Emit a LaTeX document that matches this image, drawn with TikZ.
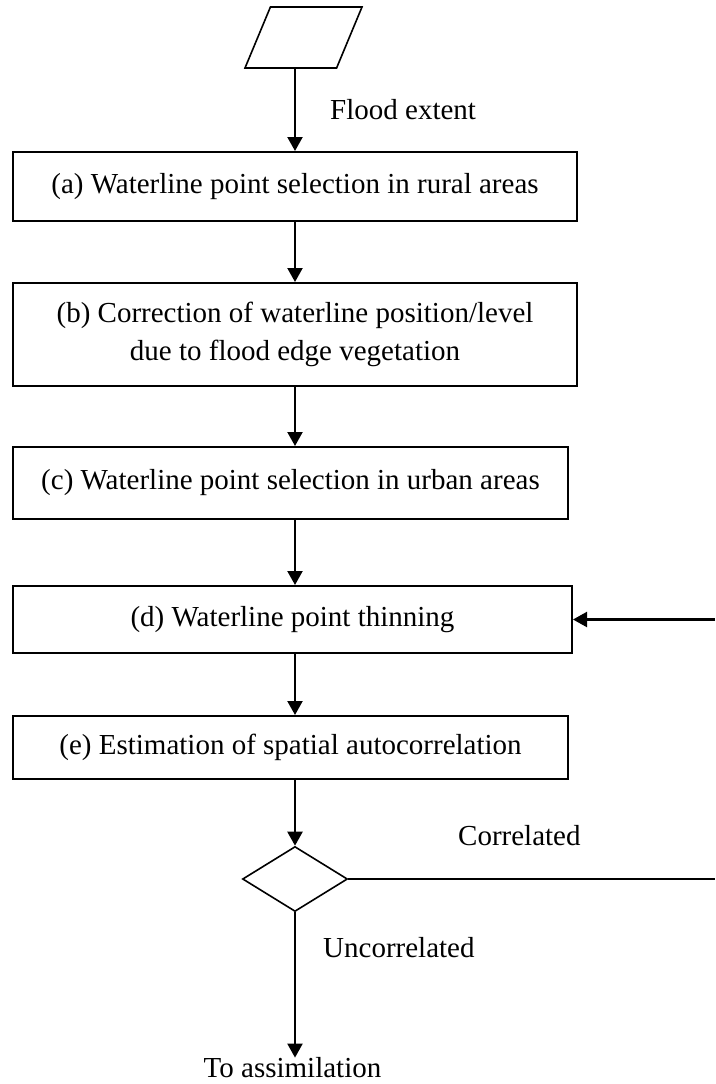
\documentclass[tikz,border=0pt]{standalone}
\usepackage{fontspec}
\setmainfont{Liberation Serif}
\usetikzlibrary{shapes.geometric, arrows.meta, positioning}

\begin{document}
\begin{tikzpicture}[
    x=1pt, y=-1pt,
    stage/.style={rectangle, draw, line width=2pt, inner sep=0pt, align=center,
                  font=\fontsize{29}{38}\selectfont},
    datain/.style={trapezium, trapezium left angle=69, trapezium right angle=111,
                   trapezium stretches=true, draw, line width=1.6pt, inner sep=2pt,
                   minimum width=117pt, minimum height=61pt},
    decide/.style={diamond, draw, line width=1.6pt, inner sep=2pt,
                   minimum width=105pt, minimum height=65pt},
    tag/.style={font=\fontsize{29}{34}\selectfont, inner sep=0pt},
    arrow/.style={-{Triangle[length=14pt, width=15pt]}, line width=2.2pt},
    line/.style={line width=2pt}
]
\useasboundingbox (0,0) rectangle (715,1084);

% Input
\node[datain] (input) at (303.5,37.5) {};

% Stages
\node[stage, minimum width=564pt, minimum height=69pt] (rural) at (295,186.5)
    {(a) Waterline point selection in rural areas};
\node[stage, minimum width=564pt, minimum height=103pt] (vegetation) at (295,334.5)
    {(b) Correction of waterline position/level\\due to flood edge vegetation};
\node[stage, minimum width=555pt, minimum height=72pt] (urban) at (290.5,483)
    {(c) Waterline point selection in urban areas};
\node[stage, minimum width=559pt, minimum height=67pt] (thinning) at (292.5,619.5)
    {(d) Waterline point thinning};
\node[stage, minimum width=555pt, minimum height=63pt] (autocorr) at (290.5,747.5)
    {(e) Estimation of spatial autocorrelation};

% Decision
\node[decide] (check) at (295,879) {};

% Edge points
\coordinate (loopin) at (715,619.5);
\coordinate (loopout) at (715,879);

% Labels
\node[tag, anchor=west] (floodlbl) at (330,110) {Flood extent};
\node[tag, anchor=west] (corrlbl) at (458,836) {Correlated};
\node[tag, anchor=west] (uncorrlbl) at (323,948) {Uncorrelated};
\node[tag] (assim) at (292.5,1068) {To assimilation};

% Flow
\draw[arrow] (input.south -| rural.north) -- (rural.north);
\draw[arrow] (rural.south) -- (rural.south |- vegetation.north);
\draw[arrow] (vegetation.south) -- (vegetation.south |- urban.north);
\draw[arrow] (urban.south -| rural.south) -- (rural.south |- thinning.north);
\draw[arrow] (thinning.south -| rural.south) -- (rural.south |- autocorr.north);
\draw[arrow] (autocorr.south -| check.north) -- (check.north);
\draw[arrow] (check.south) -- (check.south |- assim.north);
\draw[line] (check.east) -- (loopout);
\draw[arrow] (loopin) -- (thinning.east);

\end{tikzpicture}
\end{document}
